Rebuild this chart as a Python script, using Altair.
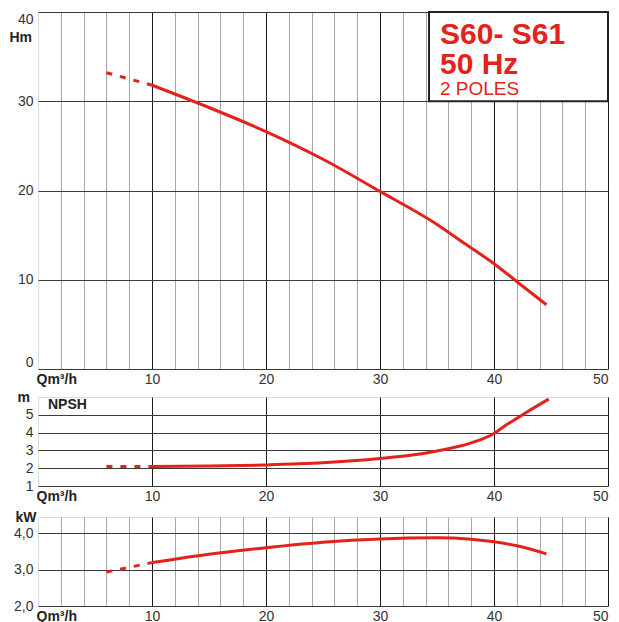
import altair as alt
import pandas as pd

# ---------------- data ----------------
# Head curve H (m) vs flow Q (m3/h)
h_q_dash = [6, 10]
h_dash = [33.2, 31.8]
h_q = [10, 15, 20, 25, 30, 35, 37.5, 40, 42.5, 44.6]
h_val = [31.8, 29.3, 26.6, 23.5, 19.9, 16.2, 14.0, 11.8, 9.3, 7.2]

# NPSH (m)
npsh_q_dash = [6, 10]
npsh_dash = [2.1, 2.1]
npsh_q = [10, 15, 20, 25, 30, 33, 35, 38, 40, 41, 42, 43, 44.8]
npsh_val = [2.1, 2.12, 2.18, 2.3, 2.54, 2.75, 2.97, 3.42, 3.95, 4.4, 4.8, 5.2, 5.88]

# Power (kW)
kw_q_dash = [6, 10]
kw_dash = [2.93, 3.19]
kw_q = [10, 15, 20, 25, 30, 35, 38, 40, 42, 44.6]
kw_val = [3.19, 3.42, 3.60, 3.75, 3.84, 3.87, 3.83, 3.76, 3.65, 3.43]

# ticks / labels
x_grid_values = list(range(2, 51, 2))
x_major_values = [10, 20, 30, 40, 50]
h_ticks = [0, 10, 20, 30, 40]
npsh_ticks = [1, 2, 3, 4, 5]
kw_ticks = [2, 3, 4]
title_lines = ["S60- S61", "50 Hz", "2 POLES"]

RED = "#e3221b"
FONT = "Liberation Sans"
W = 570


def df(q, v):
    return pd.DataFrame({"q": q, "v": v})


def x_axis(minor):
    kw = dict(
        values=x_grid_values if minor else x_major_values,
        grid=True,
        ticks=False,
        domain=False,
        labelFlush=True,
        labelOverlap=False,
        labelPadding=3,
        labelFontSize=14,
        labelColor="#333",
        title="Qm³/h",
        titleAlign="left",
        titleAnchor="start",
        titleBaseline="top",
        titleX=-2,
        titleY=3,
        titleFontSize=14,
        titleFontWeight="bold",
        titleColor="#222",
    )
    if minor:
        kw["labelExpr"] = "datum.value % 10 === 0 ? datum.label : ''"
        kw["gridColor"] = alt.condition(
            "datum.value % 10 === 0", alt.value("#1a1a1a"), alt.value("#a8a8a8")
        )
    else:
        kw["gridColor"] = "#1a1a1a"
    return alt.Axis(**kw)


def y_axis(values, title, tx, ty, flush=False, expr=None):
    kw = dict(
        values=values,
        grid=True,
        gridColor="#3a3a3a",
        ticks=False,
        domain=False,
        labelPadding=5,
        labelFontSize=14,
        labelColor="#333",
        labelFlush=flush,
        labelOverlap=False,
        title=title,
        titleAngle=0,
        titleAlign="left",
        titleBaseline="middle",
        titleX=tx,
        titleY=ty,
        titleFontSize=14,
        titleFontWeight="bold",
        titleColor="#222",
    )
    if expr:
        kw["labelExpr"] = expr
    return alt.Axis(**kw)


def curve_layers(q_d, v_d, q_s, v_s, xs, xax, ys, yax):
    dashed = alt.Chart(df(q_d, v_d)).mark_line(
        color=RED, strokeWidth=3, strokeDash=[6, 8]
    ).encode(
        x=alt.X("q:Q", scale=xs, axis=xax),
        y=alt.Y("v:Q", scale=ys, axis=yax),
    )
    solid = alt.Chart(df(q_s, v_s)).mark_line(
        color=RED, strokeWidth=3, interpolate="monotone"
    ).encode(
        x=alt.X("q:Q", scale=xs, axis=xax),
        y=alt.Y("v:Q", scale=ys, axis=yax),
    )
    return dashed, solid


one = pd.DataFrame({"k": [0]})

# ---------------- top panel: head ----------------
xs_top = alt.Scale(domain=[0, 50], nice=False)
xax_top = x_axis(True)
ys_top = alt.Scale(domain=[0, 40], nice=False)
yax_top = y_axis(h_ticks, "Hm", -29, 25, flush=True)

h_dashed, h_solid = curve_layers(
    h_q_dash, h_dash, h_q, h_val, xs_top, xax_top, ys_top, yax_top
)

box = alt.Chart(one).mark_rect(fill="white", stroke="#222", strokeWidth=2).encode(
    x=alt.XDatum(34.3, scale=xs_top, axis=xax_top),
    x2=alt.X2Datum(50),
    y=alt.YDatum(30, scale=ys_top, axis=yax_top),
    y2=alt.Y2Datum(40),
)
t1 = alt.Chart(one).mark_text(
    text=title_lines[0], color=RED, font=FONT, fontSize=30, fontWeight="bold",
    align="left", baseline="alphabetic"
).encode(x=alt.value(402), y=alt.value(32))
t2 = alt.Chart(one).mark_text(
    text=title_lines[1], color=RED, font=FONT, fontSize=30, fontWeight="bold",
    align="left", baseline="alphabetic"
).encode(x=alt.value(402), y=alt.value(62))
t3 = alt.Chart(one).mark_text(
    text=title_lines[2], color=RED, font=FONT, fontSize=19,
    align="left", baseline="alphabetic"
).encode(x=alt.value(402), y=alt.value(83))

top = alt.layer(h_dashed, box, t1, t2, t3, h_solid).properties(width=W, height=357)

# ---------------- NPSH panel ----------------
n_dashed, n_solid = curve_layers(
    npsh_q_dash, npsh_dash, npsh_q, npsh_val,
    alt.Scale(domain=[0, 50], nice=False), x_axis(False),
    alt.Scale(domain=[1, 6], nice=False), y_axis(npsh_ticks, "m", -21, 0),
)
npsh_label = alt.Chart(one).mark_text(
    text="NPSH", color="#222", font=FONT, fontSize=14, fontWeight="bold",
    align="left", baseline="middle"
).encode(x=alt.value(10), y=alt.value(8))
npsh = alt.layer(n_dashed, npsh_label, n_solid).properties(width=W, height=89)

# ---------------- kW panel ----------------
k_dashed, k_solid = curve_layers(
    kw_q_dash, kw_dash, kw_q, kw_val,
    alt.Scale(domain=[0, 50], nice=False), x_axis(True),
    alt.Scale(domain=[2, 4.44], nice=False),
    y_axis(kw_ticks, "kW", -23, 0,
           expr="replace(format(datum.value, '.1f'), '.', ',')"),
)
kw = alt.layer(k_dashed, k_solid).properties(width=W, height=89)

lower = alt.vconcat(npsh, kw, spacing=31, bounds="flush")

chart = alt.vconcat(top, lower, spacing=28, bounds="flush").properties(
    padding={"left": 0, "top": 2, "right": 0, "bottom": 0}
).configure_view(
    stroke="#222", strokeWidth=1.5, fill="white"
).configure_axis(
    labelFont=FONT, titleFont=FONT, labelOverlap=False
).configure(background="white")

chart.save("out.html", embed_options={"renderer": "svg", "actions": False})
